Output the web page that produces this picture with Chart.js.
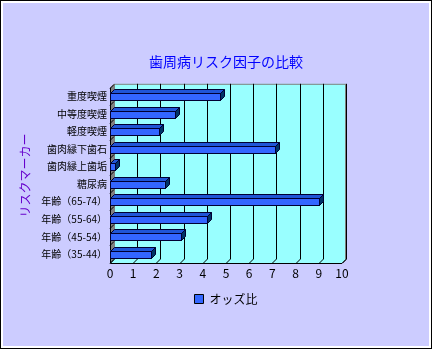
<!DOCTYPE html>
<html>
<head>
<meta charset="utf-8">
<script src="https://cdn.jsdelivr.net/npm/chart.js@4"></script>
<style>
  html, body { margin: 0; padding: 0; background: #ccccff; }
  #wrap { width: 432px; height: 349px; }
</style>
</head>
<body>
<div id="wrap"><canvas id="grafico" width="432" height="349"></canvas></div>
<script>
// datos
var categorias = [
  "重度喫煙", "中等度喫煙", "軽度喫煙", "歯肉縁下歯石", "歯肉縁上歯垢",
  "糖尿病", "年齢（65-74）", "年齢（55-64）", "年齢（45-54）", "年齢（35-44）"
];
var oddsRatio = [4.75, 2.8, 2.1, 7.1, 0.2, 2.35, 9.0, 4.17, 3.06, 1.75];
var ticksX = [0, 1, 2, 3, 4, 5, 6, 7, 8, 9, 10];

var PROF = 4; // profundidad 3D
var fuente = "'Noto Sans CJK JP', 'Noto Sans', sans-serif";

// fondo, paredes y caras 3D de las barras
var plugin3D = {
  id: "plugin3D",
  beforeDraw: function (chart) {
    var ctx = chart.ctx;
    ctx.save();
    ctx.fillStyle = "#ccccff";
    ctx.fillRect(0, 0, chart.width, chart.height);
    ctx.strokeStyle = "#000000";
    ctx.lineWidth = 1;
    ctx.strokeRect(0.5, 0.5, chart.width - 1, chart.height - 1);
    ctx.strokeStyle = "#ffffff";
    ctx.lineWidth = 2;
    ctx.strokeRect(2, 2, chart.width - 4, chart.height - 4);
    ctx.restore();
  },
  beforeDatasetsDraw: function (chart) {
    var ctx = chart.ctx;
    var a = chart.chartArea;
    var sx = chart.scales.x;
    var d = PROF;
    ctx.save();
    // pared del fondo
    ctx.fillStyle = "#99ffff";
    ctx.fillRect(a.left + d, a.top - d, a.right - a.left, a.bottom - a.top);
    ctx.strokeStyle = "#808080";
    ctx.lineWidth = 1;
    ctx.strokeRect(a.left + d + 0.5, a.top - d + 0.5, a.right - a.left - 1, a.bottom - a.top);
    // suelo
    ctx.beginPath();
    ctx.moveTo(a.left, a.bottom);
    ctx.lineTo(a.left + d, a.bottom - d);
    ctx.lineTo(a.right + d, a.bottom - d);
    ctx.lineTo(a.right, a.bottom);
    ctx.closePath();
    ctx.fillStyle = "#99ffff";
    ctx.fill();
    // pared izquierda
    ctx.beginPath();
    ctx.moveTo(a.left, a.top);
    ctx.lineTo(a.left + d, a.top - d);
    ctx.lineTo(a.left + d, a.bottom - d);
    ctx.lineTo(a.left, a.bottom);
    ctx.closePath();
    ctx.fillStyle = "#808080";
    ctx.fill();
    // lineas de division
    ctx.strokeStyle = "#000000";
    ctx.lineWidth = 1;
    ticksX.forEach(function (v) {
      var x = Math.round(sx.getPixelForValue(v)) + 0.5;
      if (v > 0) {
        ctx.beginPath();
        ctx.moveTo(x + d, a.top - d);
        ctx.lineTo(x + d, a.bottom - d);
        ctx.stroke();
      }
      ctx.beginPath();
      ctx.moveTo(x, a.bottom);
      ctx.lineTo(x + d, a.bottom - d);
      ctx.stroke();
    });
    // marcas en la pared izquierda
    var sy = chart.scales.y;
    for (var i = 0; i <= categorias.length; i++) {
      var y = Math.round(sy.getPixelForValue(i - 0.5)) + 0.5;
      ctx.beginPath();
      ctx.moveTo(a.left, y);
      ctx.lineTo(a.left + d, y - d);
      ctx.stroke();
    }
    // ejes
    ctx.beginPath();
    ctx.moveTo(a.left + 0.5, a.top);
    ctx.lineTo(a.left + 0.5, a.bottom + 0.5);
    ctx.lineTo(a.right, a.bottom + 0.5);
    ctx.lineTo(a.right + d, a.bottom - d + 0.5);
    ctx.stroke();
    ctx.restore();
  },
  afterDatasetsDraw: function (chart) {
    var ctx = chart.ctx;
    var d = PROF;
    var meta = chart.getDatasetMeta(0);
    ctx.save();
    ctx.strokeStyle = "#000033";
    ctx.lineWidth = 1;
    meta.data.forEach(function (bar) {
      var p = bar.getProps(["x", "y", "base", "height"], true);
      var x0 = Math.round(p.base) + 0.5;
      var x1 = Math.round(p.x) + 0.5;
      var t = Math.round(p.y - p.height / 2) + 0.5;
      var b = Math.round(p.y + p.height / 2) + 0.5;
      // cara superior
      ctx.beginPath();
      ctx.moveTo(x0, t);
      ctx.lineTo(x0 + d, t - d);
      ctx.lineTo(x1 + d, t - d);
      ctx.lineTo(x1, t);
      ctx.closePath();
      ctx.fillStyle = "#1f55d6";
      ctx.fill();
      ctx.stroke();
      // cara lateral
      ctx.beginPath();
      ctx.moveTo(x1, t);
      ctx.lineTo(x1 + d, t - d);
      ctx.lineTo(x1 + d, b - d);
      ctx.lineTo(x1, b);
      ctx.closePath();
      ctx.fillStyle = "#003366";
      ctx.fill();
      ctx.stroke();
      // cara frontal (borde)
      ctx.strokeRect(x0, t, x1 - x0, b - t);
    });
    ctx.restore();
  }
};

var dataOdds = {
  labels: categorias,
  datasets: [
    {
      label: "オッズ比",
      data: oddsRatio,
      backgroundColor: "#3366ff",
      borderColor: "#000033",
      borderWidth: 0,
      barThickness: 7
    }
  ]
};

var configOdds = {
  type: "bar",
  data: dataOdds,
  options: {
    indexAxis: "y",
    responsive: false,
    animation: false,
    layout: { padding: { left: 14, right: 90, top: 53, bottom: 34 } },
    scales: {
      x: {
        min: 0,
        max: 10,
        grid: { display: false, drawTicks: false },
        border: { display: false },
        ticks: {
          stepSize: 1,
          color: "#000000",
          padding: 3,
          font: { family: fuente, size: 12 }
        },
        afterFit: function (s) { s.height = 22; }
      },
      y: {
        grid: { display: false, drawTicks: false },
        border: { display: false },
        ticks: {
          color: "#000000",
          padding: 3,
          font: { family: fuente, size: 10 }
        },
        title: {
          display: true,
          text: "リスクマーカー",
          color: "#6600cc",
          padding: { top: 4, bottom: 0 },
          font: { family: fuente, size: 12 }
        },
        afterFit: function (s) { s.width = 96; }
      }
    },
    plugins: {
      title: {
        display: true,
        text: "歯周病リスク因子の比較",
        color: "#0000ff",
        fullSize: false,
        padding: { top: 0, bottom: 18 },
        font: { family: fuente, size: 14, weight: "normal" }
      },
      legend: {
        position: "bottom",
        fullSize: false,
        labels: {
          boxWidth: 9,
          boxHeight: 9,
          color: "#000000",
          padding: 8,
          font: { family: fuente, size: 12 },
          generateLabels: function (chart) {
            return [{
              text: "オッズ比",
              fillStyle: "#3366ff",
              strokeStyle: "#000000",
              lineWidth: 1,
              fontColor: "#000000",
              datasetIndex: 0
            }];
          }
        }
      },
      tooltip: { enabled: false }
    }
  },
  plugins: [plugin3D]
};

var graficoOdds = new Chart(document.getElementById("grafico"), configOdds);
</script>
</body>
</html>
